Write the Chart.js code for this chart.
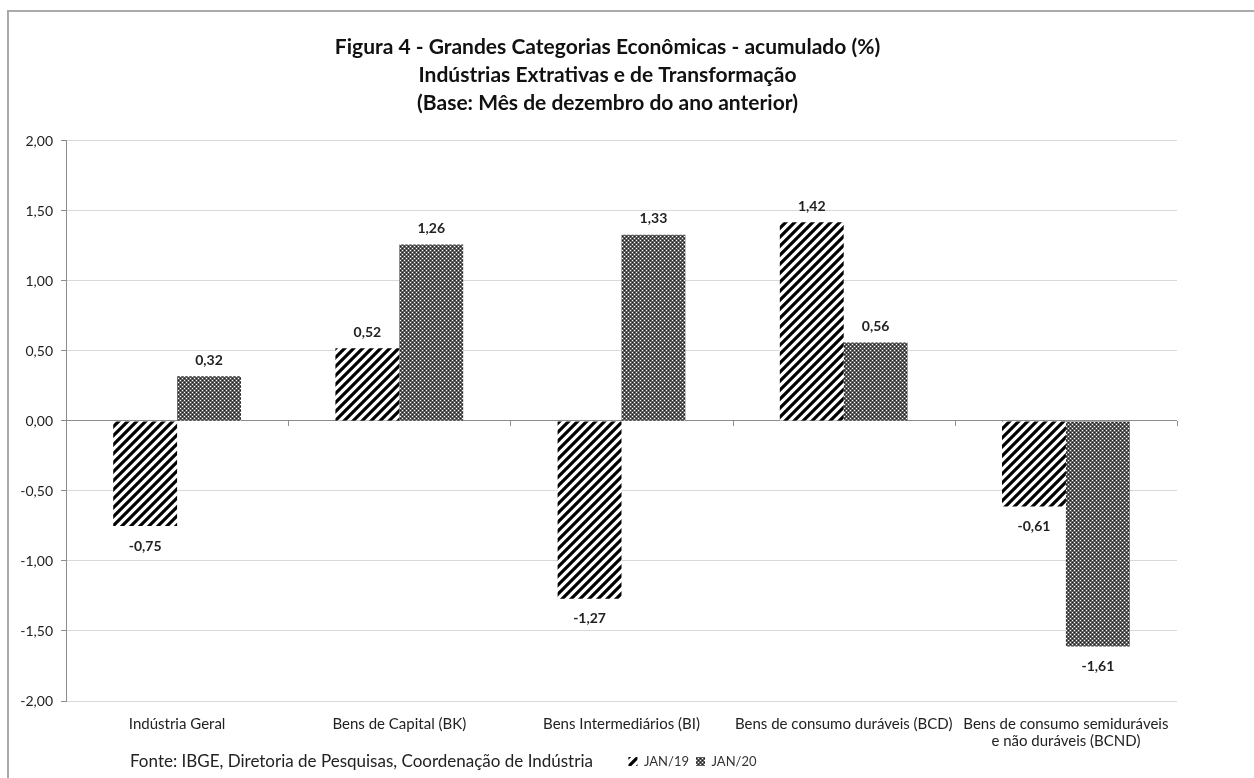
<!DOCTYPE html>
<html>
<head>
<meta charset="utf-8">
<script src="https://cdn.jsdelivr.net/npm/chart.js@4"></script>
<style>
  html, body { margin: 0; padding: 0; background: #fff; }
  #wrap { position: relative; width: 1254px; height: 778px; overflow: hidden; }
  #frame { position: absolute; left: 7px; top: 10px; width: 1300px; height: 800px;
           border-left: 2px solid #aaaaaa; border-top: 2px solid #aaaaaa; }
  canvas { position: absolute; left: 0; top: 0; }
</style>
</head>
<body>
<div id="wrap">
  <div id="frame"></div>
  <canvas id="myChart" width="1254" height="778"></canvas>
</div>
<script>
// Chart data
const categories = [
  'Indústria Geral',
  'Bens de Capital (BK)',
  'Bens Intermediários (BI)',
  'Bens de consumo duráveis (BCD)',
  ['Bens de consumo semiduráveis', 'e não duráveis (BCND)']
];
const jan19 = [-0.75, 0.52, -1.27, 1.42, -0.61];
const jan20 = [0.32, 1.26, 1.33, 0.56, -1.61];
const seriesNames = ['JAN/19', 'JAN/20'];
const yTicks = { min: -2, max: 2, step: 0.5 };
const titleLines = [
  'Figura 4 - Grandes Categorias Econômicas - acumulado (%)',
  'Indústrias Extrativas e de Transformação',
  '(Base: Mês de dezembro do ano anterior)'
];
const sourceNote = 'Fonte: IBGE, Diretoria de Pesquisas, Coordenação de Indústria';

const FONT = 'Lato, "Open Sans", sans-serif';

function fmt(v) {
  return v.toFixed(2).replace('.', ',');
}

// hatch pattern for JAN/19
function makeStripes() {
  const s = 9;
  const c = document.createElement('canvas');
  c.width = s; c.height = s;
  const g = c.getContext('2d');
  g.fillStyle = '#fff';
  g.fillRect(0, 0, s, s);
  g.strokeStyle = '#000';
  g.lineWidth = 3.2;
  g.beginPath();
  g.moveTo(-s / 2, s / 2); g.lineTo(s / 2, -s / 2);
  g.moveTo(0, s); g.lineTo(s, 0);
  g.moveTo(s / 2, s * 1.5); g.lineTo(s * 1.5, s / 2);
  g.stroke();
  return g.createPattern(c, 'repeat');
}

// dotted checker pattern for JAN/20
function makeChecker() {
  const c = document.createElement('canvas');
  c.width = 4; c.height = 4;
  const g = c.getContext('2d');
  g.fillStyle = '#5e5e5e';
  g.fillRect(0, 0, 4, 4);
  g.fillStyle = '#ffffff';
  g.fillRect(0, 0, 1, 1);
  g.fillRect(2, 2, 1, 1);
  g.fillStyle = '#1e1e1e';
  g.fillRect(2, 0, 1, 1);
  g.fillRect(0, 2, 1, 1);
  return g.createPattern(c, 'repeat');
}

const stripes = makeStripes();
const checker = makeChecker();

// value labels above / below the bars
const valueLabels = {
  id: 'valueLabels',
  afterDatasetsDraw(chart) {
    const ctx = chart.ctx;
    ctx.save();
    ctx.font = 'bold 14px ' + FONT;
    ctx.fillStyle = '#222';
    ctx.textAlign = 'center';
    ctx.textBaseline = 'middle';
    chart.data.datasets.forEach((ds, i) => {
      chart.getDatasetMeta(i).data.forEach((bar, j) => {
        const v = ds.data[j];
        const y = v >= 0 ? bar.y - 16 : bar.y + 20;
        ctx.fillText(fmt(v), bar.x, y);
      });
    });
    ctx.restore();
  }
};

// tick marks on the zero line and source note
const extras = {
  id: 'extras',
  afterLayout(chart) {
    // legend sits to the right of the source note, title a little right of centre
    const lg = chart.legend;
    if (lg) { lg.left += 100; lg.right += 100; }
    const tb = chart.titleBlock;
    if (tb) { tb.left += 15; tb.right += 15; }
  },
  afterDraw(chart) {
    const ctx = chart.ctx;
    const x = chart.scales.x, y = chart.scales.y;
    const y0 = y.getPixelForValue(0);
    const half = (x.getPixelForValue(1) - x.getPixelForValue(0)) / 2;
    ctx.save();
    ctx.strokeStyle = '#8c8c8c';
    ctx.lineWidth = 1;
    ctx.beginPath();
    for (let i = 0; i < categories.length; i++) {
      const px = Math.round(x.getPixelForValue(i) + half) + 0.5;
      ctx.moveTo(px, y0);
      ctx.lineTo(px, y0 + 5);
    }
    ctx.stroke();
    ctx.font = '17px ' + FONT;
    ctx.fillStyle = '#222';
    ctx.textAlign = 'left';
    ctx.textBaseline = 'middle';
    ctx.fillText(sourceNote, 130, 762);
    ctx.restore();
  }
};

const ctx = document.getElementById('myChart').getContext('2d');
const myChart = new Chart(ctx, {
  type: 'bar',
  data: {
    labels: categories,
    datasets: [
      { label: seriesNames[0], data: jan19, backgroundColor: stripes, borderWidth: 0 },
      { label: seriesNames[1], data: jan20, backgroundColor: checker, borderWidth: 0 }
    ]
  },
  options: {
    responsive: false,
    animation: false,
    devicePixelRatio: 1,
    categoryPercentage: 0.575,
    barPercentage: 1.0,
    layout: { padding: { top: 33, left: 8, right: 77, bottom: 0 } },
    plugins: {
      title: {
        display: true,
        text: titleLines,
        color: '#111',
        font: { family: FONT, size: 21, weight: 'bold', lineHeight: 1.3333 },
        padding: { top: 0, bottom: 24 }
      },
      legend: {
        display: true,
        position: 'bottom',
        labels: {
          font: { family: FONT, size: 13 },
          color: '#333',
          boxWidth: 9,
          boxHeight: 9,
          padding: 7
        }
      },
      tooltip: { enabled: false }
    },
    scales: {
      x: {
        afterFit(scale) { scale.height = 47; },
        grid: { display: false },
        border: { display: false },
        ticks: {
          font: { family: FONT, size: 15, lineHeight: 1.1 },
          color: '#222',
          padding: 7,
          maxRotation: 0,
          autoSkip: false
        }
      },
      y: {
        min: yTicks.min,
        max: yTicks.max,
        afterFit(scale) { scale.width = 58; },
        ticks: {
          stepSize: yTicks.step,
          font: { family: FONT, size: 14 },
          color: '#222',
          padding: 8,
          callback: v => fmt(v)
        },
        grid: {
          color: c => (c.tick && c.tick.value === 0) ? '#8c8c8c' : '#d9d9d9',
          tickColor: '#8c8c8c',
          tickLength: 5
        },
        border: { color: '#8c8c8c' }
      }
    }
  },
  plugins: [valueLabels, extras]
});
</script>
</body>
</html>
